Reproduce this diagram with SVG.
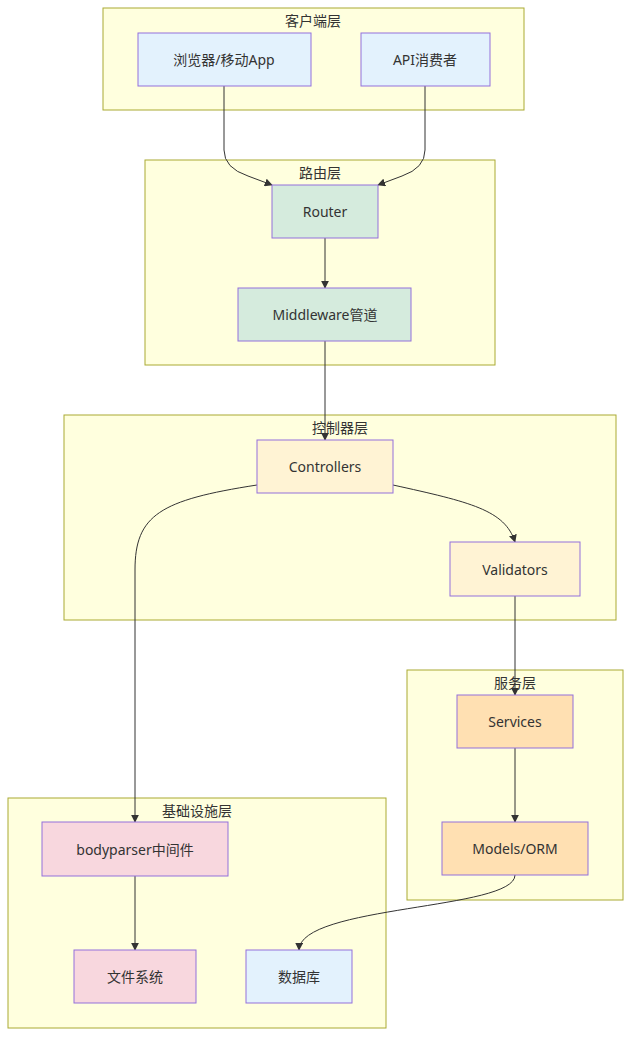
<svg xmlns="http://www.w3.org/2000/svg" width="639" height="1048" viewBox="0 0 639 1048">
<style>
.c{fill:#ffffde;stroke:#aaaa33;stroke-width:1}
.n{stroke:#9370db;stroke-width:1}
.t{font-family:"Noto Sans","Noto Sans CJK SC",sans-serif;font-size:14px;fill:#333;text-anchor:middle;dominant-baseline:central}
.e{fill:none;stroke:#333;stroke-width:1;marker-end:url(#a)}
</style>
<defs><marker id="a" viewBox="0 0 10 10" refX="9" refY="5" markerWidth="8" markerHeight="8" orient="auto"><path d="M0,0L10,5L0,10z" fill="#333"/></marker></defs>
<g id="clusters">
<rect class="c" x="103" y="8" width="421" height="102"/><text class="t" x="313" y="20">客户端层</text>
<rect class="c" x="145" y="160" width="350" height="205"/><text class="t" x="320" y="172">路由层</text>
<rect class="c" x="64" y="415" width="552" height="205"/><text class="t" x="340" y="427">控制器层</text>
<rect class="c" x="407" y="670" width="216" height="230"/><text class="t" x="515" y="682">服务层</text>
<rect class="c" x="8" y="798" width="378" height="230"/><text class="t" x="197" y="810">基础设施层</text>
</g>
<g id="edges">
<path class="e" d="M224,86L224,150Q224,168 248,176L272,185"/>
<path class="e" d="M425,86L425,150Q425,168 402,176L378,185"/>
<path class="e" d="M325,238L325,288"/>
<path class="e" d="M325,341L325,440"/>
<path class="e" d="M257,485C160,500 135,515 135,570L135,822"/>
<path class="e" d="M393,485C470,502 505,510 515,542"/>
<path class="e" d="M515,596L515,695"/>
<path class="e" d="M515,748L515,822"/>
<path class="e" d="M515,875C515,910 300,905 299,950"/>
<path class="e" d="M135,876L135,950"/>
</g>
<g id="browser"><rect class="n" x="138" y="33" width="173" height="53" fill="#e3f2fd"/><text class="t" x="224" y="59">浏览器/移动App</text></g>
<g id="api"><rect class="n" x="361" y="33" width="129" height="53" fill="#e3f2fd"/><text class="t" x="425" y="59">API消费者</text></g>
<g id="router"><rect class="n" x="272" y="185" width="106" height="53" fill="#d5ebdd"/><text class="t" x="325" y="211">Router</text></g>
<g id="middleware"><rect class="n" x="238" y="288" width="173" height="53" fill="#d5ebdd"/><text class="t" x="325" y="314">Middleware管道</text></g>
<g id="controllers"><rect class="n" x="257" y="440" width="136" height="53" fill="#fff3d4"/><text class="t" x="325" y="466">Controllers</text></g>
<g id="validators"><rect class="n" x="450" y="542" width="130" height="54" fill="#fff3d4"/><text class="t" x="515" y="569">Validators</text></g>
<g id="services"><rect class="n" x="457" y="695" width="116" height="53" fill="#ffe0b2"/><text class="t" x="515" y="721">Services</text></g>
<g id="models"><rect class="n" x="442" y="822" width="146" height="53" fill="#ffe0b2"/><text class="t" x="515" y="848">Models/ORM</text></g>
<g id="bodyparser"><rect class="n" x="42" y="822" width="186" height="54" fill="#f8d7de"/><text class="t" x="135" y="849">bodyparser中间件</text></g>
<g id="fs"><rect class="n" x="74" y="950" width="122" height="53" fill="#f8d7de"/><text class="t" x="135" y="976">文件系统</text></g>
<g id="db"><rect class="n" x="246" y="950" width="106" height="53" fill="#e3f2fd"/><text class="t" x="299" y="976">数据库</text></g>
</svg>
